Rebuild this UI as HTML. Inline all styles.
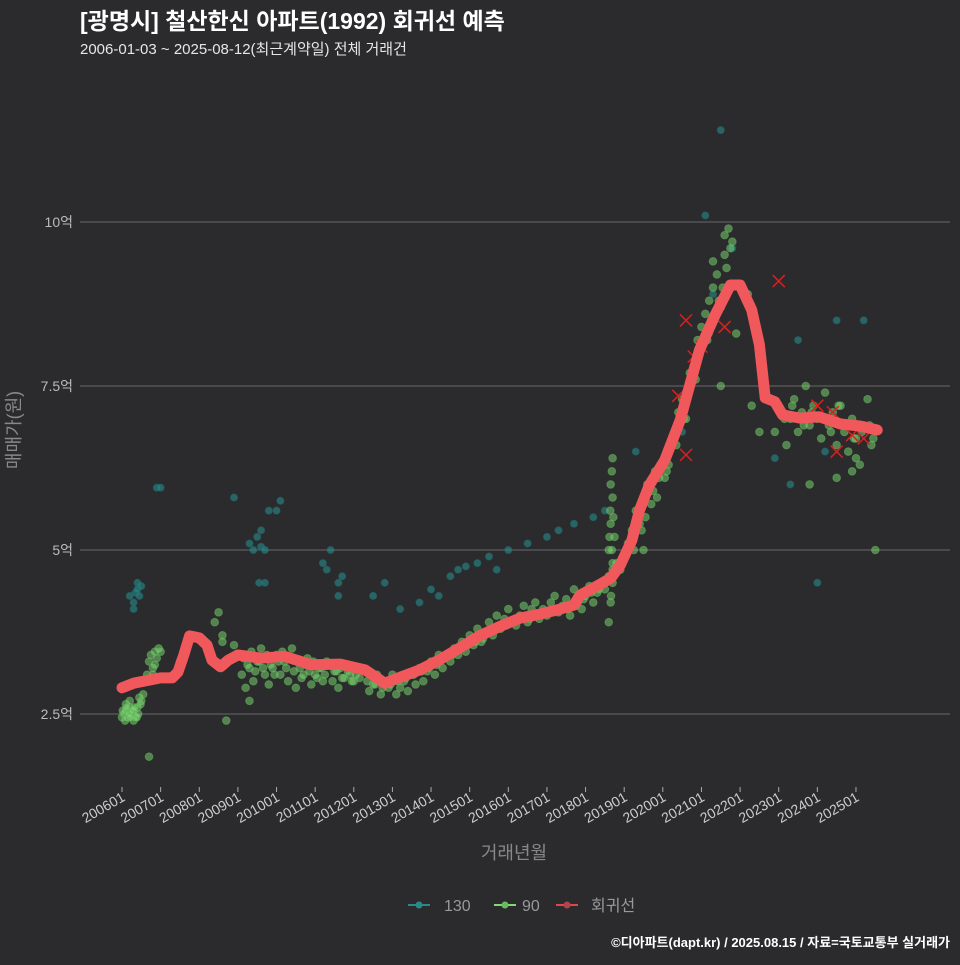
<!DOCTYPE html>
<html><head><meta charset="utf-8">
<style>
html,body{margin:0;padding:0;background:#2b2b2d;}
body{width:960px;height:960px;overflow:hidden;font-family:"Liberation Sans","Noto Sans CJK KR",sans-serif;}
svg text{font-family:"Liberation Sans","Noto Sans CJK KR",sans-serif;}
</style></head>
<body>
<svg id="chart" width="960" height="960">
<rect width="960" height="960" fill="#2b2b2d"/>
<text x="80" y="29" fill="#ffffff" font-size="23" font-weight="bold">[광명시] 철산한신 아파트(1992) 회귀선 예측</text>
<text x="80" y="54" fill="#e6e6e6" font-size="15">2006-01-03 ~ 2025-08-12(최근계약일) 전체 거래건</text>
<g id="grid"></g>
<g id="yticks"></g>
<g id="xticks"></g>
<g id="teal"></g>
<g id="green"></g>
<g id="crosses"></g>
<g id="line"></g>
<text x="20" y="430" fill="#888" font-size="18" transform="rotate(-90 20 430)" text-anchor="middle">매매가(원)</text>
<text x="514" y="859" fill="#888" font-size="18" text-anchor="middle">거래년월</text>
<g>
<g><line x1="408" y1="905" x2="430" y2="905" stroke="#2a8a8a" stroke-width="2"/><circle cx="419" cy="905" r="3.5" fill="#2a8a8a"/><text x="444" y="911" fill="#999" font-size="16">130</text></g>
<g><line x1="494" y1="905" x2="516" y2="905" stroke="#7ddc74" stroke-width="2"/><circle cx="505" cy="905" r="3.5" fill="#6aba62"/><text x="522" y="911" fill="#999" font-size="16">90</text></g>
<g><line x1="556" y1="905" x2="578" y2="905" stroke="#e0474c" stroke-width="2"/><circle cx="567" cy="905" r="3.5" fill="#b04448"/><text x="591" y="911" fill="#999" font-size="16">회귀선</text></g>
</g>
<text x="950" y="947" fill="#ffffff" font-size="13" font-weight="bold" text-anchor="end">©디아파트(dapt.kr) / 2025.08.15 / 자료=국토교통부 실거래가</text>
</svg>
<script>
const yTicks=[2.5,5,7.5,10];
const yTickLabels=["2.5억","5억","7.5억","10억"];
const xTickYears=[2006,2007,2008,2009,2010,2011,2012,2013,2014,2015,2016,2017,2018,2019,2020,2021,2022,2023,2024,2025];
const xTickLabels=["200601","200701","200801","200901","201001","201101","201201","201301","201401","201501","201601","201701","201801","201901","202001","202101","202201","202301","202401","202501"];
const lineT=[2006.0,2006.3,2007.0,2007.3,2007.45,2007.6,2007.75,2008.0,2008.2,2008.33,2008.55,2008.75,2009.0,2009.6,2010.2,2010.9,2011.65,2012.3,2012.8,2013.2,2013.7,2014.2,2014.75,2015.25,2015.8,2016.3,2016.8,2017.35,2017.7,2017.85,2018.35,2018.65,2018.9,2019.2,2019.4,2019.65,2020.05,2020.45,2020.7,2020.95,2021.35,2021.75,2022.0,2022.3,2022.5,2022.65,2022.9,2023.1,2023.55,2024.05,2024.6,2025.1,2025.55];
const lineV=[2.90,2.97,3.05,3.05,3.14,3.40,3.69,3.66,3.55,3.32,3.22,3.32,3.40,3.35,3.38,3.25,3.26,3.17,2.97,3.06,3.17,3.32,3.51,3.69,3.84,3.96,4.02,4.10,4.16,4.31,4.47,4.57,4.77,5.15,5.61,5.99,6.37,6.98,7.52,8.05,8.58,9.04,9.04,8.66,8.13,7.32,7.26,7.06,7.01,7.03,6.92,6.89,6.83];
const greenT=[2006.0,2006.05,2006.1,2006.15,2006.2,2006.25,2006.3,2006.1,2006.2,2006.3,2006.35,2006.4,2006.45,2006.5,2006.55,2006.6,2006.65,2006.7,2006.75,2006.8,2006.85,2006.9,2006.95,2006.8,2006.85,2007.0,2006.7,2007.5,2008.4,2008.5,2008.6,2008.6,2008.7,2008.9,2009.1,2009.2,2009.3,2009.3,2009.4,2009.5,2009.6,2009.7,2009.8,2009.9,2010.0,2010.1,2010.2,2010.3,2010.4,2010.5,2010.6,2010.7,2010.8,2010.9,2011.0,2011.1,2011.2,2011.3,2011.5,2011.6,2011.7,2011.8,2011.9,2012.0,2012.2,2012.4,2012.5,2012.6,2012.7,2012.8,2012.9,2013.0,2013.1,2013.2,2013.3,2013.4,2013.5,2013.6,2013.7,2013.8,2013.9,2014.0,2014.1,2014.2,2014.3,2014.5,2014.6,2014.7,2014.8,2014.9,2015.0,2015.1,2015.2,2015.3,2015.4,2015.5,2015.6,2015.7,2015.8,2015.9,2016.0,2016.2,2016.3,2016.4,2016.5,2016.6,2016.7,2016.8,2016.9,2017.0,2017.1,2017.2,2017.3,2017.4,2017.5,2017.6,2017.7,2017.8,2017.9,2018.0,2018.1,2018.2,2018.3,2018.4,2018.5,2018.6,2018.6,2018.6,2018.65,2018.65,2018.65,2018.7,2018.7,2018.7,2018.7,2018.75,2018.8,2018.9,2019.0,2019.1,2019.2,2019.3,2019.4,2019.5,2019.5,2019.6,2019.7,2019.8,2019.9,2020.0,2020.1,2020.2,2020.3,2020.4,2020.5,2020.6,2020.7,2020.8,2020.9,2021.0,2021.0,2021.1,2021.2,2021.3,2021.4,2021.5,2021.6,2021.6,2021.7,2021.8,2021.9,2021.5,2021.3,2022.2,2022.3,2022.5,2022.9,2023.1,2023.2,2023.3,2023.4,2023.5,2023.6,2023.7,2023.8,2023.9,2024.0,2024.1,2024.2,2024.3,2024.4,2024.5,2024.6,2024.7,2024.8,2024.9,2025.0,2025.1,2025.2,2025.3,2025.4,2025.5,2024.5,2025.0,2023.8,2024.9,2025.2];
const greenV=[2.45,2.50,2.55,2.45,2.60,2.50,2.40,2.65,2.70,2.55,2.45,2.60,2.75,2.70,2.80,3.00,3.10,3.30,3.40,3.20,3.45,3.35,3.50,3.10,3.25,3.45,1.85,3.30,3.90,4.05,3.70,3.60,2.40,3.55,3.10,2.90,3.20,2.70,3.00,3.30,3.50,3.10,2.95,3.20,3.40,3.10,3.30,3.00,3.50,2.90,3.20,3.10,3.35,2.95,3.10,3.20,3.00,3.30,3.15,2.90,3.05,3.25,3.10,3.00,3.20,2.85,2.95,3.10,2.80,3.00,2.90,3.10,2.80,2.90,3.00,2.85,3.10,2.95,3.20,3.00,3.15,3.30,3.10,3.40,3.20,3.30,3.50,3.40,3.60,3.45,3.70,3.55,3.80,3.60,3.75,3.90,3.70,4.00,3.80,3.95,4.10,3.85,4.00,4.15,3.90,4.10,4.20,3.95,4.10,4.00,4.20,4.30,4.05,4.15,4.25,4.00,4.40,4.20,4.10,4.30,4.45,4.20,4.35,4.50,4.40,4.60,3.90,5.00,4.20,5.40,6.00,4.70,5.80,6.40,4.50,5.20,4.80,4.70,4.90,5.10,5.30,5.60,5.40,5.80,5.00,6.00,5.70,6.20,6.10,6.30,6.20,6.60,6.80,7.10,7.30,7.00,7.70,7.80,8.20,8.10,8.40,8.60,8.80,9.00,9.20,8.70,9.50,9.80,9.90,9.70,8.30,7.50,9.40,8.90,7.20,6.80,6.80,7.10,6.60,7.00,7.30,6.80,7.10,7.50,6.90,7.20,7.00,6.70,7.40,6.90,7.10,6.60,7.20,6.80,6.50,7.00,6.70,6.30,6.90,7.30,6.60,5.00,6.10,6.40,6.00,6.20];
const greenT2=[2009.15,2009.25,2009.35,2009.45,2009.55,2009.65,2009.75,2009.85,2009.95,2010.05,2010.15,2010.25,2010.35,2010.45,2010.55,2010.65,2010.75,2010.85,2010.95,2011.05,2011.15,2011.25,2011.35,2011.45,2011.55,2011.65,2011.75,2011.85,2011.95,2012.05,
2012.15,2012.35,2012.55,2012.75,2012.95,2013.15,2013.35,2013.55,2013.75,2013.95,2014.15,2014.35,2014.55,2014.75,2014.95,2015.15,2015.35,2015.55,2015.75,2015.95,2016.15,2016.35,2016.55,2016.75,2016.95,2017.15,2017.35,2017.55,2017.75,2017.95,2018.15,2018.35,
2006.02,2006.08,2006.12,2006.18,2006.22,2006.28,2006.32,2006.38,2006.42,2006.48,
2018.62,2018.62,2018.64,2018.66,2018.68,2018.68,2018.70,2018.72,
2019.25,2019.45,2019.55,2019.75,2019.85,2020.05,2020.15,2020.35,2020.55,2020.65,2020.85,2020.95,2021.15,2021.25,2021.45,2021.55,2021.65,2021.75,
2023.15,2023.35,2023.65,2023.85,2024.15,2024.35,2024.55,2024.75,2024.95,2025.15,2025.35,2025.45];
const greenV2=[3.35,3.25,3.45,3.15,3.30,3.20,3.40,3.25,3.10,3.30,3.45,3.20,3.35,3.15,3.30,3.05,3.25,3.15,3.30,3.05,3.20,3.10,3.25,3.00,3.15,3.20,3.05,3.15,3.00,3.10,
3.05,3.00,2.95,2.90,2.95,3.00,3.05,3.10,3.15,3.20,3.25,3.35,3.40,3.50,3.55,3.60,3.65,3.75,3.80,3.85,3.90,3.95,3.95,4.00,4.05,4.05,4.10,4.10,4.15,4.25,4.35,4.40,
2.55,2.40,2.60,2.50,2.45,2.55,2.60,2.45,2.50,2.65,
4.60,5.20,5.60,4.30,5.00,6.20,4.80,5.50,
5.00,5.30,5.50,5.90,5.80,6.10,6.30,6.60,7.00,7.40,7.60,8.00,8.20,8.50,8.80,9.00,9.30,9.60,
7.00,7.20,6.90,7.10,7.00,6.80,7.20,6.90,6.70,6.80,6.90,6.70];
const tealT=[2006.2,2006.3,2006.35,2006.4,2006.45,2006.5,2006.3,2006.4,2006.9,2007.0,2008.9,2009.3,2009.4,2009.5,2009.6,2009.6,2009.7,2009.8,2009.55,2009.7,2010.0,2010.1,2011.2,2011.3,2011.4,2011.6,2011.7,2011.6,2012.5,2012.8,2013.2,2013.7,2014.0,2014.2,2014.5,2014.7,2014.9,2015.2,2015.5,2015.7,2016.0,2016.5,2017.0,2017.3,2017.7,2018.2,2018.5,2019.3,2020.5,2021.2,2021.3,2021.8,2021.1,2021.5,2022.9,2023.5,2024.0,2024.5,2025.2,2023.3,2024.2];
const tealV=[4.30,4.20,4.35,4.40,4.30,4.45,4.10,4.50,5.95,5.95,5.80,5.10,5.00,5.20,5.05,5.30,5.00,5.60,4.50,4.50,5.60,5.75,4.80,4.70,5.00,4.50,4.60,4.30,4.30,4.50,4.10,4.20,4.40,4.30,4.60,4.70,4.75,4.80,4.90,4.70,5.00,5.10,5.20,5.30,5.40,5.50,5.60,6.50,6.80,8.30,8.90,9.60,10.10,11.40,6.40,8.20,4.50,8.50,8.50,6.00,6.50];
const crossT=[2020.4,2020.6,2020.8,2021.0,2023.0,2024.0,2024.4,2024.5,2024.9,2025.2,2021.6,2020.6];
const crossV=[7.35,8.50,7.95,8.10,9.10,7.20,7.10,6.50,6.75,6.70,8.40,6.45];

const SVGNS="http://www.w3.org/2000/svg";
const xS=t=>122+(t-2006)*38.63;
const yS=v=>714-(v-2.5)*65.6;
function mk(tag,attrs,parent){const e=document.createElementNS(SVGNS,tag);for(const k in attrs)e.setAttribute(k,attrs[k]);parent.appendChild(e);return e;}
const grid=document.getElementById('grid'),yt=document.getElementById('yticks'),xt=document.getElementById('xticks');
yTicks.forEach((v,i)=>{
  const l=mk('line',{x1:80,x2:950,y1:yS(v),y2:yS(v),stroke:'#6a6a6a','stroke-width':1},grid);
  
  
  const t=mk('text',{x:73,y:yS(v)+5,fill:'#bbb','font-size':14,'text-anchor':'end'},yt);
  t.textContent=yTickLabels[i];
  
  
});
xTickYears.forEach((y,i)=>{
  const x=xS(y);
  const tk=mk('line',{x1:x,x2:x,y1:787,y2:792,stroke:'#aaa'},xt);
  
  
  const t=mk('text',{x:x+4,y:800,fill:'#ccc','font-size':14,'text-anchor':'end',transform:`rotate(-30 ${x+4} 800)`},xt);
  t.textContent=xTickLabels[i];
  
  
});
const teal=document.getElementById('teal');
for(let i=0;i<Math.min(tealT.length,tealV.length);i++){
  const c=mk('circle',{cx:xS(tealT[i]),cy:yS(tealV[i]),r:3.5,fill:'#2a8a8a','fill-opacity':0.6,stroke:'#1f6a6a','stroke-opacity':0.6},teal);
  
  
}
const green=document.getElementById('green');
function drawGreen(ts,vs){
  for(let i=0;i<Math.min(ts.length,vs.length);i++){
    const c=mk('circle',{cx:xS(ts[i]),cy:yS(vs[i]),r:3.8,fill:'#7ddc74','fill-opacity':0.5,stroke:'#5fae58','stroke-opacity':0.6},green);
    
    
  }
}
drawGreen(greenT,greenV);
drawGreen(greenT2,greenV2);
const cr=document.getElementById('crosses');
crossT.forEach((t,i)=>{
  const x=xS(t),y=yS(crossV[i]);
  const p=mk('path',{d:`M${x-6},${y-6}L${x+6},${y+6}M${x-6},${y+6}L${x+6},${y-6}`,stroke:'#e01e1e','stroke-width':1.5},cr);
  
  
});
const ln=document.getElementById('line');
const d=lineT.map((t,i)=>(i?'L':'M')+xS(t).toFixed(1)+','+yS(lineV[i]).toFixed(1)).join('');
const path=mk('path',{d:d,fill:'none',stroke:'#f0585c','stroke-width':11,'stroke-linejoin':'round','stroke-linecap':'round'},ln);


</script>
</body></html>
